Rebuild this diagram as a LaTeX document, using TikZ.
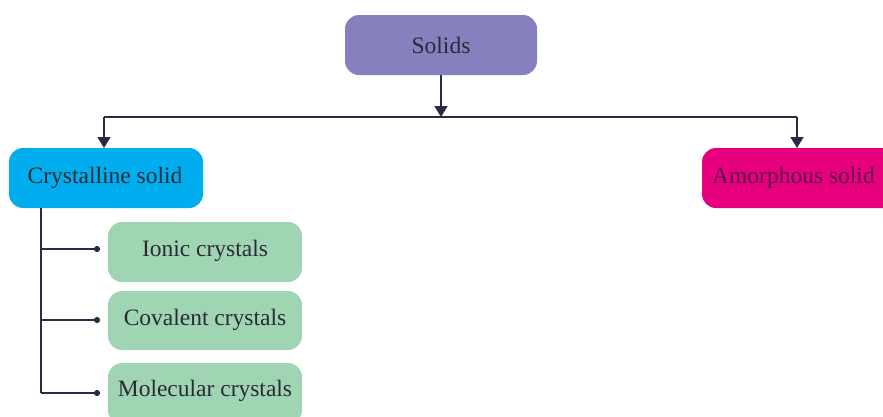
\documentclass[tikz,border=0pt]{standalone}
\usepackage{fontspec}
\setmainfont{Liberation Serif}
\usetikzlibrary{arrows.meta}
\definecolor{solidsfill}{HTML}{8680BE}
\definecolor{crystfill}{HTML}{00AEEF}
\definecolor{amorfill}{HTML}{E6007E}
\definecolor{kindfill}{HTML}{9FD5B3}
\definecolor{linecol}{HTML}{2B2B45}
\definecolor{txtcol}{HTML}{2A2A36}
\definecolor{amortxt}{HTML}{5E0C48}
\tikzset{
  box/.style={rounded corners=14pt},
  label/.style={font=\fontsize{23.5}{26}\selectfont, text=txtcol, inner sep=0pt},
  link/.style={draw=linecol, line width=1.8pt},
  arr/.style={link, -{Triangle[length=11pt,width=13pt]}},
  dotted end/.style={link, -{Circle[length=6pt,width=6pt]}}
}
\begin{document}
\begin{tikzpicture}[x=1pt,y=-1pt]
  \useasboundingbox (0,0) rectangle (883,416);
  \begin{scope}
    \clip (0,0) rectangle (883,416);
    % top level
    \path[box, fill=solidsfill] (345,15) rectangle (537,75);
    \node[label] (solids) at (441,45) {Solids};
    \coordinate (solidsb) at (441,75);
    % two kinds of solid
    \path[box, fill=crystfill] (9,148) rectangle (203,208);
    \node[label] (cryst) at (105,178) {Crystalline solid};
    \path[box, fill=amorfill] (702,148) rectangle (900,208);
    \node[label, anchor=west, text=amortxt] (amor) at (712,178) {Amorphous solid};
    \coordinate (crystt) at (104,148);
    \coordinate (amort) at (797,148);
    % kinds of crystal
    \path[box, fill=kindfill] (108,222) rectangle (302,282);
    \node[label] (ionic) at (205,251) {Ionic crystals};
    \path[box, fill=kindfill] (108,291) rectangle (302,350);
    \node[label] (cov) at (205,320) {Covalent crystals};
    \path[box, fill=kindfill] (108,363) rectangle (302,424);
    \node[label] (mol) at (205,391) {Molecular crystals};
  \end{scope}
  % connectors
  \coordinate (mid) at (441,117);
  \coordinate (left) at (104,117);
  \coordinate (right) at (797,117);
  \draw[arr] (solidsb) -- (mid);
  \draw[link] (left) -- (right);
  \draw[arr] (left) -- (crystt);
  \draw[arr] (right) -- (amort);
  \coordinate (trunk) at (41,208);
  \coordinate (b1) at (41,249);
  \coordinate (b2) at (41,320);
  \coordinate (b3) at (41,393);
  \draw[link] (trunk) -- (b3);
  \draw[dotted end] (b1) -- (100,249);
  \draw[dotted end] (b2) -- (100,320);
  \draw[dotted end] (b3) -- (100,393);
\end{tikzpicture}
\end{document}
